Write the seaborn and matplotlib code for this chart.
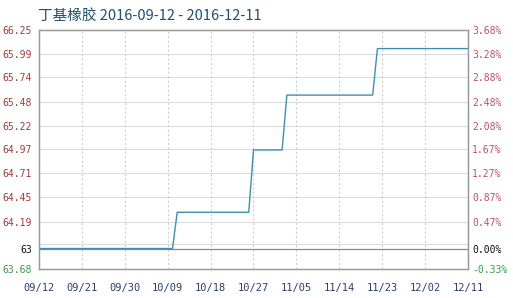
import matplotlib
matplotlib.use("Agg")
import matplotlib.pyplot as plt
import matplotlib.dates as mdates
import seaborn as sns
import pandas as pd

# ---- data ----
dates = ["2016-09-12", "2016-10-10", "2016-10-11", "2016-10-26", "2016-10-27",
         "2016-11-02", "2016-11-03", "2016-11-21", "2016-11-22", "2016-12-11"]
prices = [63.90, 63.90, 64.29, 64.29, 64.96, 64.96, 65.55, 65.55, 66.05, 66.05]

left_ticks = [66.25, 65.99, 65.74, 65.48, 65.22, 64.97, 64.71, 64.45, 64.19, 63.90, 63.68]
left_labels = ["66.25", "65.99", "65.74", "65.48", "65.22", "64.97", "64.71", "64.45", "64.19", "63", "63.68"]
right_labels = ["3.68%", "3.28%", "2.88%", "2.48%", "2.08%", "1.67%", "1.27%", "0.87%", "0.47%", "0.00%", "-0.33%"]
extra_grid = [63.945]
base_value = 63.90

x_ticks = ["2016-09-12", "2016-09-21", "2016-09-30", "2016-10-09", "2016-10-18", "2016-10-27",
           "2016-11-05", "2016-11-14", "2016-11-23", "2016-12-02", "2016-12-11"]
title = "丁基橡胶 2016-09-12 - 2016-12-11"

df = pd.DataFrame({"date": pd.to_datetime(dates), "price": prices})

sns.set_style("white")
plt.rcParams["font.family"] = ["DejaVu Sans Mono", "Noto Sans CJK SC"]

fig = plt.figure(figsize=(5.13, 2.98), dpi=100)
ax = fig.add_axes([39 / 513, 1 - 269 / 298, (468 - 39) / 513, (269 - 30) / 298])

xt = pd.to_datetime(x_ticks)
ax.set_xlim(xt[0], xt[-1])
ax.set_ylim(left_ticks[-1], left_ticks[0])

# grid
for y in left_ticks[1:-1] + extra_grid:
    if y == base_value:
        continue
    ax.axhline(y, color="#dcdcdc", lw=0.8, zorder=0)
for x in xt[1:-1]:
    ax.axvline(x, color="#cfcfcf", lw=0.8, ls=(0, (2, 2)), zorder=0)
ax.axhline(base_value, color="#888888", lw=0.9, zorder=1)

sns.lineplot(data=df, x="date", y="price", ax=ax, color="#3f8fae", lw=1.0, zorder=3)
ax.set_xlabel("")
ax.set_ylabel("")

ax.set_xticks(xt)
ax.xaxis.set_major_formatter(mdates.DateFormatter("%m/%d"))
ax.tick_params(axis="x", length=0, pad=10, labelsize=7.5, colors="#2a3f6a")

left_colors = ["#a03a3a"] * 9 + ["#111111", "#3f9a4a"]
right_colors = ["#c05060"] * 9 + ["#111111", "#3f9a4a"]

ax.set_yticks(left_ticks)
ax.set_yticklabels(left_labels)
ax.tick_params(axis="y", length=0, pad=5, labelsize=7)
for lab, c in zip(ax.get_yticklabels(), left_colors):
    lab.set_color(c)

ax2 = ax.twinx()
ax2.set_ylim(ax.get_ylim())
ax2.set_yticks(left_ticks)
ax2.set_yticklabels(right_labels)
ax2.tick_params(axis="y", length=0, pad=3, labelsize=7)
for lab, c in zip(ax2.get_yticklabels(), right_colors):
    lab.set_color(c)

for a in (ax, ax2):
    for s in a.spines.values():
        s.set_color("#999999")
        s.set_linewidth(0.9)

fig.text(38 / 513, 1 - 16 / 298, title, fontsize=10.5, color="#1f4f6f",
         va="center", ha="left", family=["Noto Sans CJK SC", "DejaVu Sans"])

fig.savefig("out.png", dpi=100)
